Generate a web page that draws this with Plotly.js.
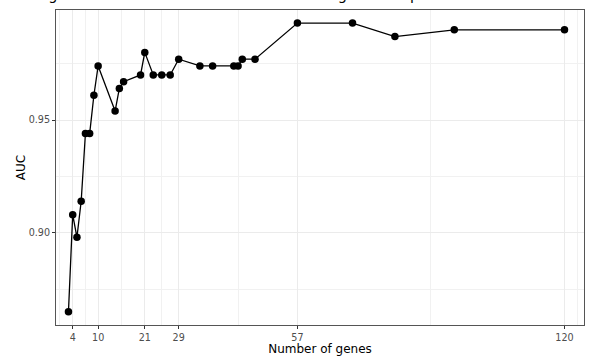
<!DOCTYPE html>
<html>
<head>
<meta charset="utf-8">
<script src="https://cdn.plot.ly/plotly-3.0.1.min.js"></script>
<style>html,body{margin:0;padding:0;background:#fff;}#chart{width:589px;height:356px;}</style>
</head>
<body>
<div id="chart"></div>
<script>
// Data
var numGenes = [3, 4, 5, 6, 7, 8, 9, 10, 14, 15, 16, 20, 21, 23, 25, 27, 29, 34, 37, 42, 43, 44, 47, 57, 70, 80, 94, 120];
var aucValues = [0.865, 0.908, 0.898, 0.914, 0.944, 0.944, 0.961, 0.974, 0.954, 0.964, 0.967, 0.970, 0.980, 0.970, 0.970, 0.970, 0.977, 0.974, 0.974, 0.974, 0.974, 0.977, 0.977, 0.993, 0.993, 0.987, 0.990, 0.990];
var xTickVals = [4, 10, 21, 29, 57, 120];
var xMinorVals = [1, 7, 15.5, 25, 43, 88.5, 123];
var yTickVals = [0.90, 0.95];
var yTickText = ["0.90", "0.95"];
var yMinorVals = [0.875, 0.925, 0.975];
var titleText = "Using AUC to determine the best number of genes for prediction";

var trace = {
  x: numGenes,
  y: aucValues,
  type: 'scatter',
  mode: 'lines+markers',
  line: {color: '#000000', width: 1.3},
  marker: {color: '#000000', size: 7.5},
  hoverinfo: 'none'
};

var layout = {
  width: 589,
  height: 356,
  margin: {l: 56, r: 5, t: 10, b: 31},
  paper_bgcolor: '#ffffff',
  plot_bgcolor: '#ffffff',
  font: {family: 'DejaVu Sans', color: '#000000'},
  showlegend: false,
  title: {
    text: titleText,
    font: {family: 'DejaVu Sans', size: 14.4, color: '#000000'},
    xref: 'container', yref: 'container',
    x: 17 / 589, xanchor: 'left',
    y: 1, yanchor: 'bottom',
    pad: {t: 0, b: 0, l: 0, r: 0}
  },
  xaxis: {
    range: [0.06, 124.6],
    tickmode: 'array',
    tickvals: xTickVals,
    ticktext: xTickVals.map(String),
    ticks: 'outside', ticklen: 3, tickcolor: '#333333', tickwidth: 1,
    tickfont: {family: 'DejaVu Sans', size: 9.6, color: '#4D4D4D'},
    showgrid: true, gridcolor: '#EBEBEB', gridwidth: 1,
    minor: {tickvals: xMinorVals, showgrid: true, gridcolor: '#F1F1F1', gridwidth: 1, ticks: ''},
    zeroline: false,
    showline: true, linecolor: '#555555', linewidth: 1, mirror: true,
    title: {text: 'Number of genes', font: {family: 'DejaVu Sans', size: 12, color: '#000000'}, standoff: 2},
    automargin: false
  },
  yaxis: {
    range: [0.8591, 0.9988],
    tickmode: 'array',
    tickvals: yTickVals,
    ticktext: yTickText,
    ticks: 'outside', ticklen: 3, tickcolor: '#333333', tickwidth: 1,
    tickfont: {family: 'DejaVu Sans', size: 9.6, color: '#4D4D4D'},
    showgrid: true, gridcolor: '#EBEBEB', gridwidth: 1,
    minor: {tickvals: yMinorVals, showgrid: true, gridcolor: '#F1F1F1', gridwidth: 1, ticks: ''},
    zeroline: false,
    showline: true, linecolor: '#555555', linewidth: 1, mirror: true,
    title: {text: 'AUC', font: {family: 'DejaVu Sans', size: 12, color: '#000000'}, standoff: 0},
    automargin: false
  }
};

Plotly.newPlot('chart', [trace], layout, {displayModeBar: false, staticPlot: true});
</script>
</body>
</html>
